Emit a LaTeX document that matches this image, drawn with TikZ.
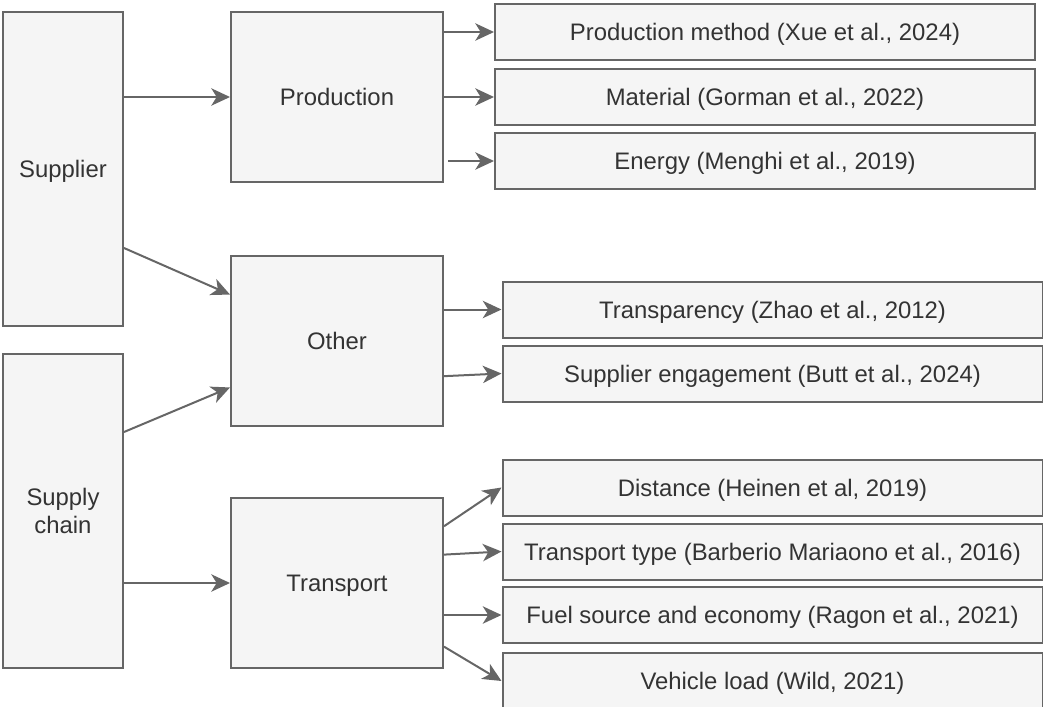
\documentclass[tikz,border=0pt]{standalone}
\usepackage{fontspec}
\setmainfont{Liberation Sans}
\usetikzlibrary{arrows.meta, calc}
\definecolor{boxline}{HTML}{666666}
\definecolor{boxfill}{HTML}{F5F5F5}
\definecolor{boxtext}{HTML}{333333}
\tikzset{
  box/.style={draw=boxline, fill=boxfill, text=boxtext, line width=1.5pt, inner sep=0pt, text depth=0pt, align=center, font=\fontsize{17.9}{21}\selectfont},
  sidebox/.style={box, minimum width=90pt, minimum height=235.5pt},
  catbox/.style={box, minimum width=159pt, minimum height=127.5pt},
  leafbox/.style={box, minimum width=405pt, minimum height=42pt},
  link/.style={draw=boxline, line width=1.5pt, -{Stealth[length=14pt, width=13pt, inset=4pt]}},
}

\begin{document}
\begin{tikzpicture}[x=0.75pt, y=-0.75pt]
\useasboundingbox (0,0) rectangle (1043,707);

\node[sidebox] (sup) at (63,169) {Supplier};
\node[sidebox] (sc) at (63,511) {Supply\\chain};

\node[catbox] (prod) at (337,97) {Production};
\node[catbox] (oth) at (337,341) {Other};
\node[catbox] (tr) at (337,583) {Transport};

\node[leafbox] (pm) at (765,32) {Production method (Xue et al., 2024)};
\node[leafbox] (mat) at (765,97) {Material (Gorman et al., 2022)};
\node[leafbox] (en) at (765,161) {Energy (Menghi et al., 2019)};

\node[leafbox] (tp) at (772.5,309.5) {Transparency (Zhao et al., 2012)};
\node[leafbox] (se) at (772.5,373.5) {Supplier engagement (Butt et al., 2024)};

\node[leafbox] (dis) at (772.5,487.5) {Distance (Heinen et al, 2019)};
\node[leafbox] (tt) at (772.5,551.5) {Transport type (Barberio Mariaono et al., 2016)};
\node[leafbox] (fuel) at (772.5,615) {Fuel source and economy (Ragon et al., 2021)};
\node[leafbox] (veh) at (772.5,681) {Vehicle load (Wild, 2021)};

\draw[link] (sup.east |- prod.west) -- (prod.west);
\draw[link] ($(sup.north east)!0.75!(sup.south east)$) -- ($(oth.north west)!0.23!(oth.south west)$);
\draw[link] ($(sc.north east)!0.25!(sc.south east)$) -- ($(oth.north west)!0.77!(oth.south west)$);
\draw[link] (sc.east |- tr.west) -- (tr.west);

\draw[link] (prod.east |- pm.west) -- (pm.west);
\draw[link] (prod.east) -- (mat.west);
\draw[link] ([xshift=3pt]prod.east |- en.west) -- (en.west);

\draw[link] (oth.east |- tp.west) -- (tp.west);
\draw[link] ([yshift=-2pt]oth.east |- se.west) -- (se.west);

\draw[link] ($(tr.north east)!0.17!(tr.south east)$) -- (dis.west);
\draw[link] ($(tr.north east)!0.335!(tr.south east)$) -- (tt.west);
\draw[link] (tr.east |- fuel.west) -- (fuel.west);
\draw[link] ($(tr.north east)!0.87!(tr.south east)$) -- (veh.west);
\end{tikzpicture}
\end{document}
